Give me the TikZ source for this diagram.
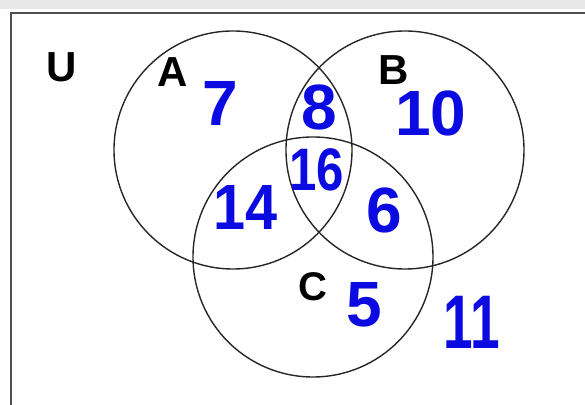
\documentclass[tikz,border=0pt]{standalone}
\usepackage{fontspec}
\setmainfont{Liberation Sans}
\definecolor{vennblue}{RGB}{10,10,225}
\definecolor{framegray}{RGB}{80,80,80}

\begin{document}
\begin{tikzpicture}[x=0.5pt,y=-0.5pt]
        \tikzset{setcircle/.style={draw=black!85, line width=0.7pt},
            setlabel/.style={inner sep=0pt, font=\fontsize{21}{21}\selectfont\bfseries},
            count/.style={inner sep=0pt, text=vennblue, font=\fontsize{32}{32}\selectfont\bfseries}}
        \useasboundingbox (0,0) rectangle (585,405);
        % Frame of U
        \fill[black!9] (0,0) rectangle (585,9);
        \draw[framegray, line width=1.3pt] (11,405) -- (11,13) -- (585,13);
        % Circles
        \coordinate (cA) at (233,150);
        \coordinate (cB) at (405,150);
        \coordinate (cC) at (313,257);
        \draw[setcircle] (cA) circle[radius=119];
        \draw[setcircle] (cB) circle[radius=119];
        \draw[setcircle] (cC) circle[radius=120];
        % Set names
        \node[setlabel] (lblU) at (62,67)  {U};
        \node[setlabel] (lblA) at (173,72) {A};
        \node[setlabel] (lblB) at (394,70) {B};
        \node[setlabel, font=\fontsize{20}{20}\selectfont\bfseries] (lblC) at (313,287) {C};
        % Counts
        \node[count] (nA)   at (220,103) {7};
        \node[count] (nAB)  at (319,107) {8};
        \node[count] (nB)   at (431,113) {10};
        \node[count, font=\fontsize{30}{30}\selectfont\bfseries, xscale=0.82] (nABC) at (317,170) {16};
        \node[count, xscale=0.9] (nAC)  at (246,207) {14};
        \node[count] (nBC)  at (384,210) {6};
        \node[count] (nC)   at (364,305) {5};
        \node[count, font=\fontsize{38}{38}\selectfont\bfseries, xscale=0.7] (nOut) at (472,322) {11};
      \end{tikzpicture}
\end{document}
